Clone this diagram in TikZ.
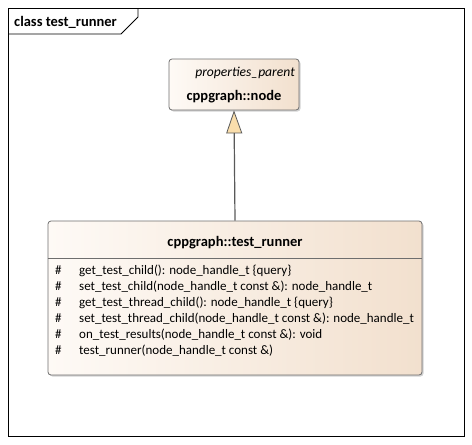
\documentclass[tikz,border=0pt]{standalone}
\usepackage{fontspec}
\setmainfont{Carlito}
\usepackage{tikz}
\usetikzlibrary{arrows.meta}
\usetikzlibrary{shadows}
\usetikzlibrary{positioning}
\definecolor{boxleft}{RGB}{254,250,246}
\definecolor{boxright}{RGB}{242,224,206}
\definecolor{boxline}{RGB}{110,110,110}
\definecolor{tipfill}{RGB}{250,222,172}
\begin{document}
\begin{tikzpicture}[x=1pt,y=-1pt,font=\fontsize{13}{15}\selectfont,
  umlbox/.style={draw=boxline,thick,rounded corners=3pt,left color=boxleft,right color=boxright,drop shadow={shadow xshift=1.5pt,shadow yshift=-1.5pt,fill=black!35}},
  boldname/.style={anchor=base,inner sep=0pt,font=\fontsize{14.5}{16}\selectfont\bfseries},
  member/.style={anchor=base west,inner sep=0pt},
  vis/.style={anchor=base west,inner sep=0pt},
  gen/.style={draw=black!65,line width=1.2pt,-{Triangle[length=23pt,width=16pt,fill=tipfill,line width=0.8pt]}}]
  \useasboundingbox (0,0) rectangle (472,445);
  %frame
  \draw[thick] (8,8) rectangle (464,436);
  \draw[thick] (8,34) -- (121,34) -- (138,17) -- (138,8);
  \node[boldname,anchor=base west] (title) at (14,26) {class test\_runner};

  %parent
  \node[umlbox,minimum width=130,minimum height=51] (nd) at (234,84.5) {};
  \node[anchor=base east,inner sep=0pt,font=\fontsize{13.6}{15}\selectfont\itshape] (stereo) at (295,76) {properties\_parent};
  \node[boldname] (ndname) at (234,100) {cppgraph::node};

  %child
  \node[umlbox,minimum width=374,minimum height=154] (tr) at (235,298) {};
  \draw[boxline,thick] (tr.west |- 0,258) coordinate (sepl) -- (tr.east |- 0,258) coordinate (sepr);
  \node[boldname] (trname) at (235,246) {cppgraph::test\_runner};
  \foreach \txt [count=\i] in {get\_test\_child(): node\_handle\_t \{query\},
      set\_test\_child(node\_handle\_t const \&): node\_handle\_t,
      get\_test\_thread\_child(): node\_handle\_t \{query\},
      set\_test\_thread\_child(node\_handle\_t const \&): node\_handle\_t,
      on\_test\_results(node\_handle\_t const \&): void,
      test\_runner(node\_handle\_t const \&)}
  {
    \node[vis] (v\i) at (55,258+16*\i) {\#};
    \node[member] (m\i) at (79,258+16*\i) {\txt};
  }

  %generalization
  \draw[gen] (tr.north) -- (nd.south);
\end{tikzpicture}
\end{document}
